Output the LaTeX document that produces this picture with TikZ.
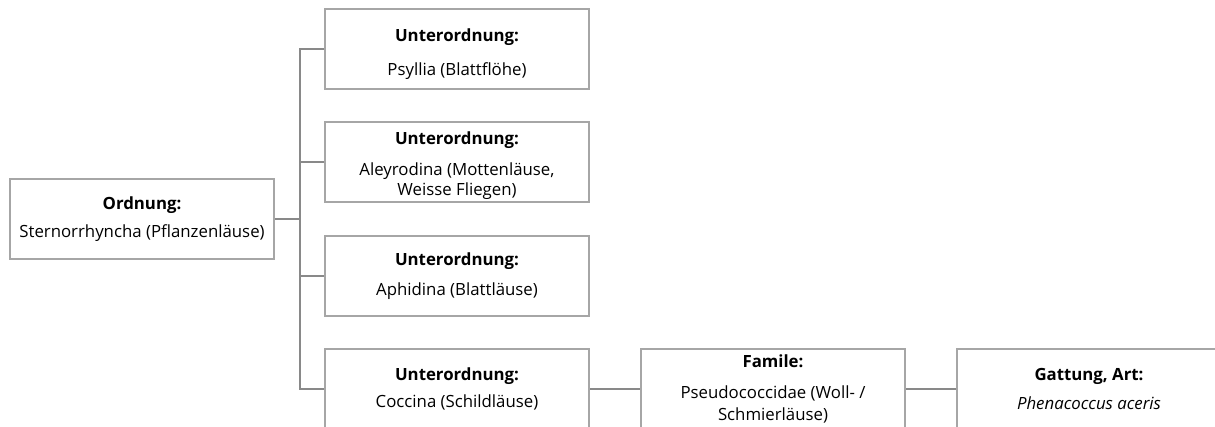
\documentclass[tikz,border=0pt]{standalone}
\usepackage{fontspec}
\setmainfont{Open Sans}
\usetikzlibrary{positioning}

\definecolor{boxgray}{RGB}{166,166,166}
\definecolor{linegray}{RGB}{137,137,137}

\begin{document}
\begin{tikzpicture}[%
    x=0.75pt,
    y=-0.75pt,
    node distance=237pt,
    on grid,
    taxon/.style={draw=boxgray, line width=1.5pt, rectangle,
      minimum width=198pt, minimum height=60pt, inner sep=2pt,
      align=center, font=\fontsize{12.6}{15}\selectfont},
    link/.style={draw=linegray, line width=1.8pt}
  ]
    \useasboundingbox (0,0) rectangle (1215,426);
    \clip (0,0) rectangle (1215,426);

    \node[taxon] (ord) at (142,219) {\textbf{Ordnung:}\\[5.5pt]Sternorrhyncha (Pflanzenläuse)};
    \node[taxon] (psy) at (457,49) {\rule{0pt}{18pt}\textbf{Unterordnung:}\\[10.5pt]Psyllia (Blattflöhe)};
    \node[taxon] (aley) at (457,162) {\rule{0pt}{15pt}\textbf{Unterordnung:}\\[8pt]Aleyrodina (Mottenläuse,\\Weisse Fliegen)};
    \node[taxon] (aphi) at (457,276) {\textbf{Unterordnung:}\\[7pt]Aphidina (Blattläuse)};
    \node[taxon] (cocc) at (457,389) {\textbf{Unterordnung:}\\[5pt]Coccina (Schildläuse)};
    \node[taxon] (fam) [right=of cocc] {\textbf{Famile:}\\[8pt]Pseudococcidae (Woll- /\\[2pt]Schmierläuse)};
    \node[taxon] (gat) [right=of fam] {\textbf{Gattung, Art:}\\[7pt]\textit{Phenacoccus aceris}};

    \coordinate (trunk) at (300,219);

    \draw[link] (ord.east) -- (trunk);
    \draw[link] (psy.west) -- (psy.west -| trunk) -- (cocc.west -| trunk) -- (cocc.west);
    \draw[link] (aley.west) -- (aley.west -| trunk);
    \draw[link] (aphi.west) -- (aphi.west -| trunk);
    \draw[link] (cocc.east) -- (fam.west);
    \draw[link] (fam.east) -- (gat.west);
  \end{tikzpicture}
\end{document}
